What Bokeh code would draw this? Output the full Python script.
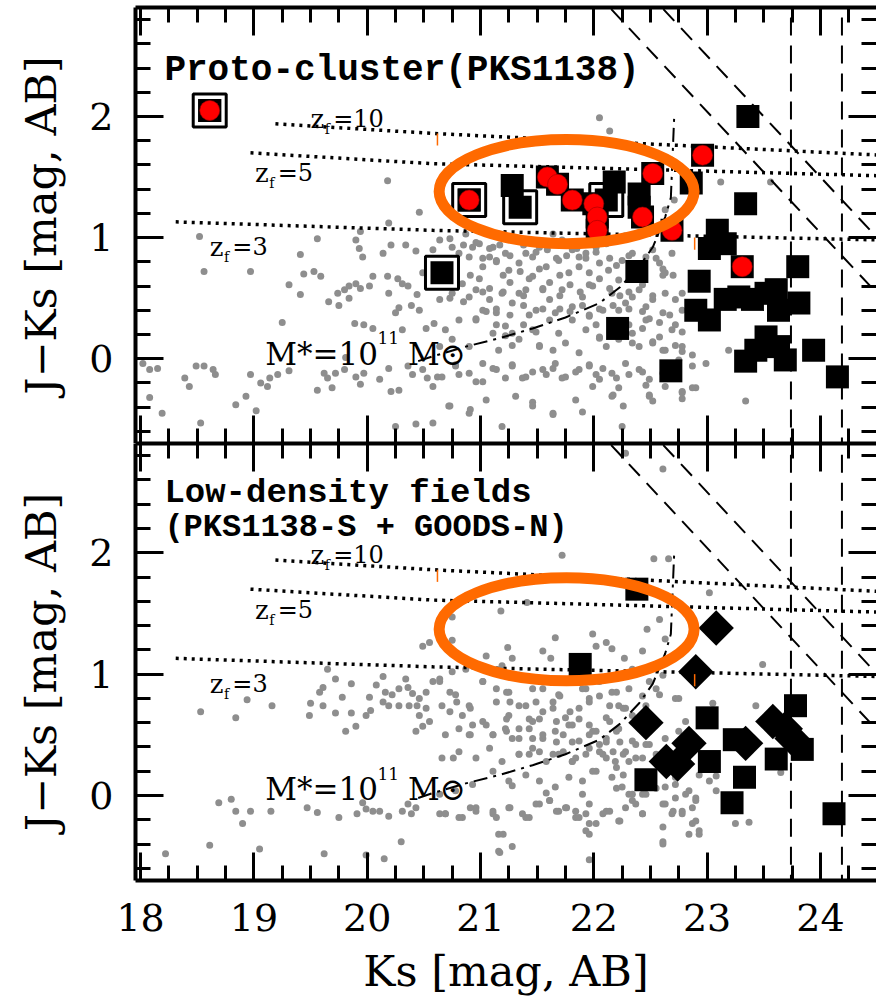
from bokeh.plotting import figure
from bokeh.models import Range1d, LinearAxis, FixedTicker, Label
from bokeh.layouts import column
from bokeh.embed import file_html
from bokeh.resources import INLINE

# ---------------- axes ----------------
KS_RANGE = (17.955, 24.495)
JK_RANGE = (-0.7, 2.9)
KS_TICKS = [18, 19, 20, 21, 22, 23, 24]
KS_MINOR = [18 + 0.25 * i for i in range(-1, 27)]
JK_TICKS = [0, 1, 2]
JK_MINOR = [round(-0.6 + 0.2 * i, 2) for i in range(18)]
X_LABEL = "Ks [mag, AB]"
Y_LABEL = "J\u2212Ks [mag, AB]"
TOP_TITLE = "Proto-cluster(PKS1138)"
BOTTOM_TITLE_1 = "Low-density fields"
BOTTOM_TITLE_2 = "(PKS1138-S + GOODS-N)"

# ---------------- model tracks ----------------
zf10_ks = [19.19, 20.58, 24.55]
zf10_jk = [1.94, 1.86, 1.68]
zf5_ks = [18.97, 20.58, 24.55]
zf5_jk = [1.70, 1.61, 1.51]
zf3_ks = [18.31, 20.58, 24.55]
zf3_jk = [1.13, 1.06, 0.98]
mass_ks = [20.45, 20.58, 20.87, 21.17, 21.46, 21.75, 22.05, 22.23, 22.40, 22.52, 22.63, 22.68, 22.71]
mass_jk = [-0.02, 0.02, 0.10, 0.17, 0.25, 0.34, 0.46, 0.59, 0.76, 0.92, 1.17, 1.33, 2.01]
j_limits = [25.04, 25.50]          # J - Ks = J_lim - Ks
ks_limits = [23.74, 24.19]

# ---------------- top panel: field galaxies ----------------
top_field_ks = [
    20.18, 20.46, 20.19, 19.94, 19.90, 19.93, 19.96, 19.56, 18.52, 19.41, 20.14, 20.21, 20.34, 20.43, 20.58,
    18.56, 18.97, 19.44, 19.53, 19.59, 19.31, 19.41, 19.74, 19.80, 19.84, 19.90, 19.94, 20.02, 20.05, 20.18, 20.27, 20.31, 20.19, 20.44, 20.36, 20.49, 20.58,
    19.66, 19.75, 19.84, 20.28, 20.25, 20.39, 20.46, 19.25, 19.89, 19.97, 20.05, 20.31, 20.52, 20.59, 19.81,
    18.02, 18.08, 18.15, 18.49, 18.56, 18.64, 18.66, 18.39, 18.43, 18.97, 19.06, 19.14, 19.21, 19.31, 19.12, 19.56, 19.62, 19.65, 19.69, 19.72, 19.80, 19.90, 19.94, 19.97, 20.11, 20.19, 20.21, 20.28, 20.36, 20.40, 20.49, 20.53, 20.58, 20.62,
    18.08, 18.19, 18.53, 18.84, 18.93, 19.02, 20.25, 20.43, 20.58,
    22.05, 22.14, 23.12, 23.56, 22.63, 22.71,
    20.64, 20.75, 20.87, 20.99, 21.11, 21.16, 21.28, 21.40, 21.52, 21.64, 21.72, 21.81, 21.93, 22.11, 22.34, 22.46, 22.58, 22.69,
    20.66, 20.78, 20.90, 21.02, 21.14, 21.25, 21.34, 21.46, 21.58, 21.69, 21.78, 21.87, 21.96, 22.05, 22.13, 22.22, 22.63,
    20.64, 20.75, 20.84, 20.96, 21.08, 21.19, 21.28, 21.40, 21.49, 21.61, 21.72, 21.81, 21.90, 21.99, 22.08, 22.16, 22.28, 22.40, 22.52, 22.63, 22.61,
    20.69, 20.81, 20.96, 21.11, 21.22, 21.34, 21.46, 21.61, 21.69, 21.81, 21.93, 22.05, 22.16, 22.34, 22.46, 22.58, 22.69, 22.78, 22.40, 22.63,
    20.66, 20.78, 20.90, 21.02, 21.14, 21.28, 21.40, 21.55, 21.66, 21.75, 21.87, 21.96, 22.05, 22.16, 22.28, 22.40, 22.49, 22.61, 22.75, 22.87, 22.99, 23.19,
    20.72, 20.90, 21.05, 21.19, 21.31, 21.46, 21.64, 21.84, 21.99, 22.16, 22.25, 22.49, 22.63, 22.78, 22.90, 23.34,
    20.81, 20.93, 21.08, 21.22, 21.46, 21.59, 21.87, 22.02, 22.25, 22.52,
    20.69, 20.90, 21.02, 21.14, 21.34, 21.55, 21.66, 21.96, 22.22, 22.34, 22.46, 22.72,
    20.64, 20.75, 20.90, 21.16, 21.28, 21.52, 21.75, 21.87, 22.11, 22.22, 22.52, 22.78, 22.78,
]
top_field_jk = [
    1.47, 1.21, 1.12, 1.05, 0.98, 0.91, 0.84, 0.99, 1.01, 0.86, 0.87, 0.94, 0.94, 0.89, 0.90,
    0.72, 0.72, 0.70, 0.72, 0.68, 0.61, 0.53, 0.54, 0.57, 0.60, 0.62, 0.58, 0.60, 0.68, 0.68, 0.66, 0.62, 0.54, 0.53, 0.60, 0.71, 0.65,
    0.47, 0.44, 0.50, 0.42, 0.38, 0.44, 0.40, 0.30, 0.29, 0.28, 0.25, 0.24, 0.25, 0.29, 0.01,
    -0.04, -0.09, -0.08, -0.06, -0.06, -0.09, -0.13, -0.16, -0.23, -0.13, -0.20, -0.16, -0.13, -0.10, -0.23, -0.26, -0.12, -0.16, -0.24, -0.12, -0.09, -0.15, -0.21, -0.12, -0.17, -0.08, -0.27, -0.26, -0.06, -0.13, -0.09, -0.16, -0.23, -0.15,
    -0.32, -0.45, -0.53, -0.38, -0.31, -0.43, -0.56, -0.54, -0.53,
    1.99, 1.88, 1.46, 1.46, 1.23, 1.31,
    0.98, 0.92, 1.03, 0.95, 0.92, 1.03, 0.98, 0.87, 0.92, 1.03, 0.98, 0.90, 0.87, 0.95, 0.87, 0.84, 0.79, 0.87,
    0.76, 0.79, 0.84, 0.76, 0.81, 0.73, 0.79, 0.68, 0.76, 0.81, 0.71, 0.76, 0.71, 0.79, 0.73, 0.65, 0.71,
    0.49, 0.54, 0.62, 0.57, 0.49, 0.54, 0.46, 0.57, 0.40, 0.49, 0.57, 0.43, 0.51, 0.60, 0.40, 0.54, 0.46, 0.57, 0.49, 0.54, 0.38,
    0.24, 0.32, 0.32, 0.21, 0.27, 0.16, 0.24, 0.32, 0.21, 0.32, 0.24, 0.18, 0.27, 0.21, 0.32, 0.18, 0.24, 0.10, 0.10, 0.07,
    -0.15, -0.06, -0.12, -0.04, -0.09, -0.06, -0.15, -0.09, -0.04, -0.15, -0.09, -0.06, -0.17, -0.12, -0.04, -0.09, -0.17, -0.12, -0.01, -0.06, -0.04, 0.07,
    -0.39, -0.45, -0.34, -0.56, -0.31, -0.36, -0.45, -0.34, -0.23, -0.31, -0.56, -0.31, -0.23, -0.28, -0.24, -0.35,
    0.87, 0.92, 0.84, 0.87, 0.84, 0.90, 0.84, 0.92, 0.81, 0.90,
    0.60, 0.51, 0.40, 0.38, 0.54, 0.57, 0.38, 0.35, 0.40, 0.51, 0.43, 0.49,
    0.10, 0.16, 0.10, 0.07, 0.21, 0.10, 0.13, 0.05, 0.10, 0.16, 0.13, 0.40, 0.54,
]
# denser core of the top-panel field cloud
top_core_ks = [
    20.73, 20.85, 20.96, 21.08, 21.17, 21.02, 21.14, 21.26, 21.38, 21.49, 21.61, 21.67, 21.76, 21.85, 21.93, 22.02, 22.14, 22.20, 22.31, 22.43, 22.55, 22.61,
    20.91, 20.99, 21.08, 21.20, 21.26, 21.35, 21.43, 21.52, 21.61, 21.70, 21.79, 21.88, 21.96, 22.05, 22.14, 22.23, 22.31, 22.43, 22.52, 22.61, 22.70, 20.73, 20.85, 21.02, 21.20, 21.38, 21.55, 21.70,
    20.96, 21.05, 21.14, 21.26, 21.38, 21.43, 21.55, 21.70, 21.79, 21.90, 21.96, 22.05, 22.17, 22.31, 22.43, 22.49, 22.58, 22.67, 22.72, 22.78, 21.14, 21.38, 21.49, 22.02, 22.31, 22.43,
    21.22, 21.28, 21.52, 21.64, 22.05, 22.34, 22.52, 22.61, 22.72, 22.78, 22.87,
    20.78, 20.81, 20.96, 21.11, 21.28, 21.37, 21.46, 21.58, 21.64, 21.72, 21.84, 21.96, 22.02, 22.08, 22.20, 22.31, 22.43, 22.46, 22.22, 22.17, 22.49, 22.78, 22.87, 21.02, 21.22,
    20.73, 20.91, 21.46, 21.64, 21.90, 22.26, 22.52, 22.78,
]
top_core_jk = [
    0.99, 0.94, 0.96, 0.91, 0.94, 0.83, 0.80, 0.85, 0.94, 0.88, 0.96, 0.83, 0.85, 0.91, 0.83, 0.88, 0.83, 0.77, 0.85, 0.77, 0.83, 0.74,
    0.69, 0.66, 0.58, 0.69, 0.63, 0.72, 0.66, 0.74, 0.63, 0.69, 0.61, 0.55, 0.61, 0.66, 0.58, 0.52, 0.55, 0.61, 0.52, 0.69, 0.69, 0.50, 0.47, 0.55, 0.55, 0.52, 0.58, 0.52,
    0.33, 0.39, 0.41, 0.36, 0.44, 0.36, 0.41, 0.41, 0.39, 0.44, 0.36, 0.41, 0.44, 0.41, 0.39, 0.33, 0.30, 0.36, 0.28, 0.22, 0.28, 0.28, 0.22, 0.28, 0.28, 0.25,
    0.19, 0.11, 0.11, 0.07, 0.17, 0.13, 0.14, 0.07, 0.11, 0.06, 0.03,
    -0.05, -0.13, -0.19, -0.08, -0.05, -0.16, -0.11, -0.13, -0.08, -0.16, -0.11, -0.05, -0.13, -0.08, -0.16, -0.13, -0.11, -0.22, -0.24, -0.30, -0.30, -0.27, -0.24, -0.19, -0.16,
    -0.39, -0.42, -0.39, -0.46, -0.44, -0.39, -0.35, -0.33,
]

# ---------------- top panel: candidates ----------------
top_sq_ks = [23.36, 22.86, 22.18, 22.40, 22.40, 21.28, 23.34, 23.09, 23.16, 23.02, 23.80, 22.38, 22.93, 22.90,
             23.02, 23.16, 23.28, 23.40, 23.52, 23.61, 23.81, 23.63, 22.21, 23.52, 23.43, 23.34, 23.63, 23.69,
             23.94, 22.68, 24.15]
top_sq_jk = [2.00, 1.45, 1.46, 1.36, 1.25, 1.43, 1.28, 1.06, 0.95, 0.91, 0.76, 0.72, 0.64, 0.40,
             0.32, 0.49, 0.51, 0.49, 0.54, 0.57, 0.46, 0.40, 0.25, 0.18, 0.07, -0.02, 0.10, -0.01,
             0.07, -0.10, -0.15]
top_boxed_ks = [18.61, 20.90, 21.35, 22.11, 20.66]
top_boxed_jk = [2.05, 1.31, 1.25, 1.31, 0.71]
top_hae_ks = [18.61, 20.90, 21.59, 21.68, 21.81, 22.00, 22.03, 22.03, 22.43, 22.52, 22.69, 22.96, 23.31]
top_hae_jk = [2.05, 1.31, 1.50, 1.44, 1.31, 1.28, 1.17, 1.06, 1.17, 1.53, 1.06, 1.68, 0.76]

# ---------------- bottom panel: field galaxies ----------------
bot_field_ks = [
    20.49, 20.55, 19.65, 19.72, 19.86, 19.61, 19.58, 19.78, 20.02, 20.08, 20.14, 20.16, 20.22, 20.28, 20.34, 20.36, 20.40, 20.46, 20.52, 20.58, 20.64,
    19.50, 19.61, 19.72, 19.86, 19.99, 20.03, 20.14, 20.19, 20.28, 20.37, 20.44, 20.46, 20.52, 18.53, 18.84, 18.94, 19.16, 19.49, 19.81, 19.90, 20.43, 20.49, 20.55,
    18.69, 18.80, 18.84, 18.90, 18.97, 19.15, 19.47, 19.56, 19.75, 19.91, 19.96, 19.99, 20.05, 20.11, 20.19, 20.31, 20.36, 20.43, 20.39, 20.64,
    18.22, 18.61, 19.05, 19.62, 19.99, 20.15, 20.30,
    22.28, 22.61, 21.72, 22.53, 22.66, 23.02, 21.18, 21.41, 20.75, 22.58, 22.47, 21.66, 21.99, 20.75, 22.16, 22.43, 22.63, 23.49, 21.05, 21.24, 21.55, 21.62, 21.28, 22.27, 22.11, 22.02,
    20.64, 20.75, 20.87, 21.02, 21.19, 21.25, 21.34, 21.46, 21.58, 21.69, 21.81, 21.93, 22.05, 22.16, 22.22, 22.34, 22.49, 22.61,
    20.66, 20.78, 20.90, 21.02, 21.14, 21.25, 21.34, 21.46, 21.55, 21.64, 21.75, 21.87, 21.96, 22.11, 22.22, 22.34, 22.46, 22.58, 22.75, 23.05, 23.43,
    20.69, 20.81, 20.90, 21.11, 21.22, 21.34, 21.43, 21.55, 21.66, 21.78, 21.87, 21.99, 22.11, 22.22, 22.34, 22.46, 22.63, 22.75, 22.81,
    20.66, 20.81, 20.96, 21.08, 21.19, 21.34, 21.46, 21.58, 21.69, 21.81, 21.96, 22.08, 22.19, 22.28, 22.37, 22.93, 23.02, 23.08,
    20.64, 20.78, 20.93, 21.11, 21.25, 21.40, 21.52, 21.66, 21.78, 21.90, 22.02, 22.16, 22.25, 22.34, 22.46, 22.63, 22.72, 22.81, 22.90, 23.08, 23.65,
    20.69, 20.84, 20.96, 21.11, 21.25, 21.40, 21.49, 21.61, 21.69, 21.75, 21.84, 21.93, 22.02, 22.11, 22.22, 22.34, 22.43, 22.63, 22.69, 22.78, 22.87, 22.93, 23.25, 23.37, 21.16, 21.16, 21.96, 22.61,
]
bot_field_jk = [
    1.23, 1.26, 1.04, 0.96, 0.92, 0.89, 0.85, 0.81, 0.81, 0.91, 0.98, 0.85, 0.83, 0.88, 0.96, 0.89, 0.84, 0.80, 0.85, 0.94, 0.96,
    0.76, 0.74, 0.68, 0.68, 0.66, 0.70, 0.77, 0.74, 0.74, 0.74, 0.74, 0.66, 0.72, 0.69, 0.64, 0.79, 0.74, 0.66, 0.53, 0.57, 0.53, 0.57, 0.61,
    -0.06, -0.03, -0.13, -0.23, -0.13, -0.13, -0.10, -0.14, -0.18, -0.15, -0.06, -0.11, -0.13, -0.13, -0.17, -0.13, -0.07, -0.10, -0.15, -0.15,
    -0.48, -0.41, -0.44, -0.48, -0.49, -0.52, -0.38,
    2.82, 2.69, 1.98, 1.95, 1.95, 1.67, 1.52, 1.59, 1.47, 1.45, 1.37, 1.30, 1.33, 1.28, 1.21, 1.19, 1.29, 1.08, 1.15, 1.22, 1.19, 1.13, 1.13, 1.13, 1.26, 1.23,
    0.94, 1.02, 1.04, 0.94, 1.07, 0.85, 0.99, 0.88, 0.94, 0.83, 0.99, 0.88, 0.94, 0.85, 0.99, 1.04, 0.94, 0.99,
    0.74, 0.83, 0.74, 0.61, 0.77, 0.66, 0.74, 0.61, 0.69, 0.77, 0.64, 0.72, 0.80, 0.64, 0.74, 0.66, 0.74, 0.83, 0.80, 0.76, 0.74,
    0.50, 0.55, 0.50, 0.50, 0.55, 0.47, 0.55, 0.47, 0.53, 0.58, 0.45, 0.53, 0.47, 0.55, 0.45, 0.42, 0.47, 0.53, 0.61,
    0.31, 0.36, 0.31, 0.39, 0.28, 0.34, 0.39, 0.28, 0.34, 0.28, 0.39, 0.34, 0.28, 0.36, 0.31, 0.17, 0.12, 0.16,
    0.01, 0.04, 0.09, 0.20, 0.12, 0.17, 0.12, 0.07, 0.15, 0.12, 0.20, 0.15, 0.07, 0.01, 0.01, 0.07, 0.15, 0.01, -0.02, 0.04, 0.19,
    -0.15, -0.18, -0.10, -0.15, -0.10, -0.18, -0.07, -0.04, -0.13, -0.10, -0.18, -0.15, -0.23, -0.13, -0.21, -0.04, -0.15, -0.07, -0.15, -0.13, -0.23, -0.32, -0.23, -0.22, -0.32, -0.46, -0.53, -0.40,
]
# denser core of the bottom-panel field cloud
bot_core_ks = [
    20.73, 20.79, 20.91, 20.73, 21.02, 21.14, 21.23, 21.26, 21.40, 21.49, 21.55, 21.64, 21.70, 21.79, 21.90, 21.96, 22.05, 22.14, 22.20, 22.26, 22.31, 22.43, 22.55, 22.72,
    20.84, 20.93, 21.05, 21.23, 21.34, 21.43, 21.52, 21.55, 21.67, 21.73, 21.81, 21.87, 21.96, 22.02, 22.14, 22.20, 22.28, 20.91, 21.11, 21.23, 21.28, 21.46, 21.67, 21.81, 21.96, 22.11, 22.23, 22.37, 22.49,
    21.34, 21.43, 21.52, 21.64, 21.73, 21.84, 21.93, 22.05, 22.17, 22.26, 22.31, 22.43, 22.55, 22.11, 21.81, 21.99, 22.20, 22.26, 22.05, 20.76, 21.28,
    22.20, 22.31, 22.43, 22.55, 22.72, 22.84, 22.90, 21.58, 21.90, 22.28, 22.72,
    20.69, 20.81, 20.91, 20.96, 21.11, 21.14, 21.26, 21.37, 21.43, 21.52, 21.61, 21.67, 21.76, 21.84, 21.87, 21.96, 22.08, 22.14, 22.23, 22.37, 22.43, 22.61, 22.70, 22.78, 22.87, 21.96, 22.90,
    21.20, 21.28, 21.17, 21.93, 21.96, 22.61, 22.61, 22.84, 22.93,
]
bot_core_jk = [
    0.85, 0.77, 0.72, 0.69, 0.94, 0.88, 0.85, 0.77, 0.74, 0.77, 0.88, 0.72, 0.82, 0.69, 0.88, 0.77, 0.82, 0.74, 0.85, 0.72, 0.88, 0.82, 0.88, 0.80,
    0.66, 0.58, 0.58, 0.63, 0.55, 0.63, 0.63, 0.50, 0.61, 0.50, 0.58, 0.63, 0.58, 0.53, 0.61, 0.53, 0.72, 0.50, 0.50, 0.53, 0.47, 0.47, 0.44, 0.44, 0.50, 0.44, 0.44, 0.42, 0.42,
    0.34, 0.34, 0.36, 0.34, 0.36, 0.31, 0.34, 0.36, 0.36, 0.34, 0.28, 0.31, 0.34, 0.31, 0.28, 0.20, 0.23, 0.17, 0.42, 0.31, 0.08,
    0.06, 0.01, 0.01, 0.06, 0.09, 0.04, -0.04, 0.02, 0.01, -0.10, -0.02,
    -0.15, -0.18, -0.10, -0.13, -0.13, -0.18, -0.10, -0.15, -0.18, -0.07, -0.04, -0.13, -0.10, -0.13, -0.18, -0.07, -0.15, -0.13, -0.21, -0.07, -0.15, -0.07, -0.13, -0.15, -0.10, -0.23, -0.21,
    -0.32, -0.42, -0.47, -0.29, -0.32, -0.26, -0.38, -0.32, -0.29,
]

# ---------------- bottom panel: candidates ----------------
bot_sq_ks = [22.38, 21.88, 23.00, 23.78, 23.24, 23.84, 23.61, 23.02, 23.33, 22.46, 23.22, 24.12]
bot_sq_jk = [1.70, 1.08, 0.64, 0.74, 0.46, 0.38, 0.30, 0.28, 0.15, 0.13, -0.06, -0.15]
bot_dia_ks = [23.08, 22.90, 22.46, 22.84, 22.74, 22.64, 23.34, 23.58, 23.69, 23.75]
bot_dia_jk = [1.38, 1.02, 0.60, 0.43, 0.26, 0.28, 0.43, 0.61, 0.55, 0.47]

# ---------------- highlight ellipse ----------------
ellipse_top = dict(x=21.76, y=1.38, w=2.25, h=0.86)
ellipse_bot = dict(x=21.76, y=1.37, w=2.25, h=0.85)

GRAY = "#8e8e8e"
ORANGE = "#ff6a00"
SERIF = "DejaVu Serif"
MONO = "Liberation Mono"


def style_axis(ax, labels, line=True):
    ax.axis_line_width = 4
    ax.axis_line_color = "black" if line else None
    ax.major_tick_line_width = 3
    ax.minor_tick_line_width = 3
    ax.major_tick_in = 28
    ax.major_tick_out = 0
    ax.minor_tick_in = 15
    ax.minor_tick_out = 0
    if labels:
        ax.major_label_text_font = SERIF
        ax.major_label_text_font_size = "38px"
        ax.major_label_text_color = "black"
        ax.axis_label_text_font = SERIF
        ax.axis_label_text_font_size = "43px"
        ax.axis_label_text_font_style = "normal"
        ax.axis_label_text_color = "black"
    else:
        ax.major_label_text_font_size = "1px"
        ax.major_label_text_color = None
        ax.major_label_text_alpha = 0
        ax.major_label_standoff = 0
        ax.axis_label = None


def make_panel(height, top, bottom, x_labels):
    p = figure(width=876, height=height,
               x_range=Range1d(*KS_RANGE), y_range=Range1d(*JK_RANGE),
               x_axis_location=None, y_axis_location=None,
               toolbar_location=None, output_backend="svg",
               min_border_left=135, min_border_right=0,
               min_border_top=top, min_border_bottom=bottom)
    p.outline_line_color = None
    p.grid.visible = False
    p.background_fill_color = "white"
    p.border_fill_color = "white"

    left = LinearAxis(ticker=FixedTicker(ticks=JK_TICKS, minor_ticks=JK_MINOR), axis_label=Y_LABEL)
    style_axis(left, True)
    left.major_label_standoff = 22
    left.axis_label_standoff = 20
    p.add_layout(left, "left")

    right = LinearAxis(ticker=FixedTicker(ticks=JK_TICKS, minor_ticks=JK_MINOR))
    style_axis(right, False, line=False)
    p.add_layout(right, "right")

    top_ax = LinearAxis(ticker=FixedTicker(ticks=KS_TICKS, minor_ticks=KS_MINOR))
    style_axis(top_ax, False)
    p.add_layout(top_ax, "above")

    bot_ax = LinearAxis(ticker=FixedTicker(ticks=KS_TICKS, minor_ticks=KS_MINOR),
                        axis_label=X_LABEL if x_labels else None)
    style_axis(bot_ax, x_labels)
    if x_labels:
        bot_ax.major_label_standoff = 23
        bot_ax.axis_label_standoff = 12
    p.add_layout(bot_ax, "below")
    return p


def text(p, x, y, s, size, font=SERIF, style="normal"):
    p.add_layout(Label(x=x, y=y, text=s, text_font=font, text_font_size=size,
                       text_font_style=style, text_color="black",
                       text_baseline="alphabetic", text_align="left"))


def add_common(p, field_ks, field_jk, core_ks, core_jk, mlabel_y):
    # field galaxies
    p.scatter(field_ks, field_jk, marker="circle", size=7, fill_color=GRAY, line_color=None)
    p.scatter(core_ks, core_jk, marker="circle", size=7, fill_color=GRAY, line_color=None)
    # formation-redshift tracks
    for ks, jk in ((zf10_ks, zf10_jk), (zf5_ks, zf5_jk), (zf3_ks, zf3_jk)):
        p.line(ks, jk, line_color="black", line_width=3.5, line_dash="3 5")
    # J-band limits (diagonal) and Ks limits (vertical)
    for jl in j_limits:
        p.line([jl - 3.2, 24.8], [3.2, jl - 24.8], line_color="black", line_width=2, line_dash="16 10")
    for kl in ks_limits:
        p.line([kl, kl], [-0.8, 3.0], line_color="black", line_width=2, line_dash="18 10")
    # stellar mass track
    p.line(mass_ks, mass_jk, line_color="black", line_width=2, line_dash="14 6 3 6")

    # track labels
    for zx, zy, num in ((19.50, 1.98, "=10"), (19.01, 1.53, "=5"), (18.61, 0.92, "=3")):
        text(p, zx, zy, "z", "26px")
        text(p, zx + 0.125, zy - 0.08, "f", "14px")
        text(p, zx + 0.20, zy, num, "24px")
    text(p, 19.10, mlabel_y, "M*=10", "31px")
    text(p, 20.09, mlabel_y + 0.13, "11", "17px")
    text(p, 20.36, mlabel_y, "M\u2299", "31px")


def add_ellipse(p, ell):
    p.ellipse(x=[ell["x"]], y=[ell["y"]], width=[ell["w"]], height=[ell["h"]],
              fill_color=None, line_color=ORANGE, line_width=11)
    # small orange ticks left over from the annotation
    for kx, y0, y1 in ((20.62, 1.76, 1.86), (22.89, 0.90, 1.00)):
        p.line([kx, kx], [y0, y1], line_color=ORANGE, line_width=1.5)


# ================= top panel =================
p1 = make_panel(443, 7, 0, False)
add_common(p1, top_field_ks, top_field_jk, top_core_ks, top_core_jk, 0.04)
p1.scatter(top_boxed_ks, top_boxed_jk, marker="square", size=33, fill_color="white",
           line_color="black", line_width=3)
p1.scatter(top_boxed_ks, top_boxed_jk, marker="square", size=23, fill_color="black", line_color=None)
p1.scatter(top_sq_ks, top_sq_jk, marker="square", size=23, fill_color="black", line_color=None)
p1.scatter(top_hae_ks, top_hae_jk, marker="square", size=23, fill_color="black", line_color=None)
p1.scatter(top_hae_ks, top_hae_jk, marker="circle", size=20, fill_color="#ff0000",
           line_color="#a00000", line_width=0.6)
add_ellipse(p1, ellipse_top)
text(p1, 18.21, 2.38, TOP_TITLE, "36px", font=MONO, style="bold")

# ================= bottom panel =================
p2 = make_panel(555, 0, 116, True)
add_common(p2, bot_field_ks, bot_field_jk, bot_core_ks, bot_core_jk, 0.05)
p2.scatter(bot_sq_ks, bot_sq_jk, marker="square", size=23, fill_color="black", line_color=None)
p2.scatter(bot_dia_ks, bot_dia_jk, marker="square", angle=0.7854, size=25,
           fill_color="black", line_color=None)
add_ellipse(p2, ellipse_bot)
text(p2, 18.21, 2.49, BOTTOM_TITLE_1, "34px", font=MONO, style="bold")
text(p2, 18.21, 2.21, BOTTOM_TITLE_2, "32px", font=MONO, style="bold")

layout = column(p1, p2, spacing=0)
with open("out.html", "w") as f:
    f.write(file_html(layout, INLINE))
